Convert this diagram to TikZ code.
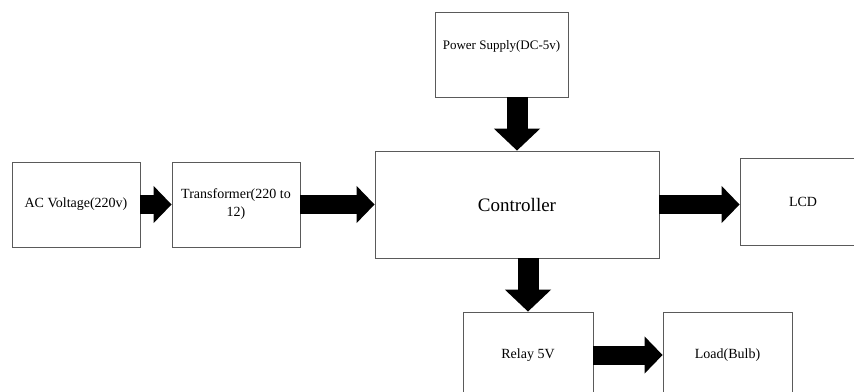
\documentclass[tikz,border=0pt]{standalone}
\usepackage{fontspec}
\setmainfont{Liberation Serif}
\usepackage{tikz}
\usetikzlibrary{arrows.meta,positioning}
\definecolor{boxline}{RGB}{90,90,90}

\begin{document}
\begin{tikzpicture}[x=1pt, y=-1pt,
  block/.style={draw=boxline, line width=0.8pt, fill=white, inner sep=0pt,
    align=center, font=\fontsize{14}{18}\selectfont},
  fatright/.style={line width=19pt, -{Triangle[length=18pt, width=36pt]}},
  fatdown/.style={line width=21pt, -{Triangle[length=22pt, width=45pt]}}]
\useasboundingbox (0,0) rectangle (854,391);
\clip (0,0) rectangle (854,391);
% blocks
\node[block, minimum width=128pt, minimum height=85pt] (ac) at (76,204.5)
  {AC Voltage(220v)};
\node[block, minimum width=128pt, minimum height=85pt] (trafo) at (236,204.5)
  {Transformer(220 to\\12)};
\node[block, minimum width=284pt, minimum height=107pt,
  font=\fontsize{19}{22}\selectfont] (ctrl) at (517,204.5) {Controller};
\node[block, minimum width=133pt, minimum height=85pt,
  font=\fontsize{13}{16}\selectfont] (supply) at (501.5,54.5)
  {Power Supply(DC-5v)\\[4pt]};
\node[block, minimum width=126pt, minimum height=87pt] (lcd) at (803,201.5)
  {LCD};
\node[block, minimum width=130pt, minimum height=86pt] (relay) at (528,355)
  {Relay 5V};
\node[block, minimum width=129pt, minimum height=86pt] (load) at (727.5,355)
  {Load(Bulb)};
% arrows
\draw[fatright] (ac.east) -- (trafo.west);
\draw[fatright] (trafo.east) -- (ctrl.west);
\draw[fatright] (ctrl.east) -- (ctrl.east -| lcd.west);
\draw[fatdown] (supply.south -| ctrl.north) -- (ctrl.north);
\draw[fatdown] (ctrl.south -| relay.north) -- (relay.north);
\draw[fatright] (relay.east) -- (load.west);
\end{tikzpicture}
\end{document}
